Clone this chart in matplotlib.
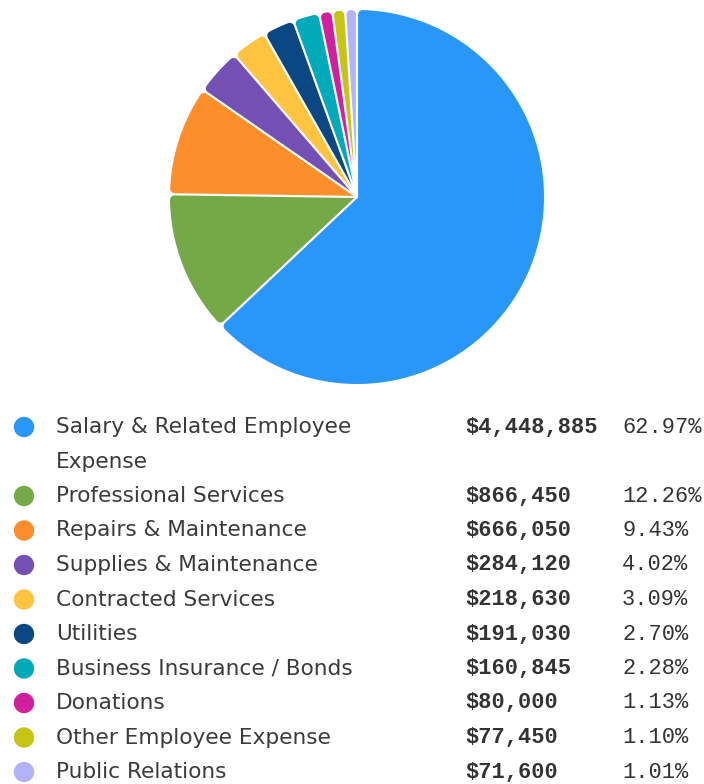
import numpy as np
import matplotlib
matplotlib.use("Agg")
import matplotlib.pyplot as plt
from matplotlib.patches import Polygon
import textwrap

# data
categories = ["Salary & Related Employee Expense", "Professional Services",
              "Repairs & Maintenance", "Supplies & Maintenance",
              "Contracted Services", "Utilities", "Business Insurance / Bonds",
              "Donations", "Other Employee Expense", "Public Relations"]
amounts = [4448885, 866450, 666050, 284120, 218630, 191030, 160845, 80000, 77450, 71600]
colors = ["#2997fa", "#75a846", "#fd8e2a", "#7450b5", "#ffc43f",
          "#0b4783", "#01aab9", "#d11f9e", "#c6c416", "#b3b3fd"]

W, H = 704, 784
fig = plt.figure(figsize=(W / 100, H / 100), dpi=100)

# legend / table area in pixel coordinates
lax = fig.add_axes([0, 0, 1, 1])
lax.set_xlim(0, W)
lax.set_ylim(H, 0)
lax.axis("off")

# pie
cx, cy, R = 357, 197, 187
pax = fig.add_axes([(cx - R) / W, (H - cy - R) / H, 2 * R / W, 2 * R / H])
wedges, _ = pax.pie(amounts, colors=colors, startangle=90, counterclock=False, radius=1)
pax.set_xlim(-1, 1)
pax.set_ylim(-1, 1)
pax.axis("off")


def rounded_wedge(t1, t2, r, g, rr):
    # wedge inset by g on the radial sides, outer corners rounded with radius rr
    h = np.radians(t2 - t1) / 2
    b = np.radians(t1 + t2) / 2
    a1, a2 = np.radians(t1), np.radians(t2)
    while rr > 0:
        cxl = np.sqrt((r - rr) ** 2 - (g + rr) ** 2)
        al = np.arctan2(g + rr, cxl)
        if al <= h:
            break
        rr -= 0.0002
    apex = g / np.sin(h) * np.array([np.cos(b), np.sin(b)])

    def rot(p, a):
        c, s = np.cos(a), np.sin(a)
        return np.column_stack([p[:, 0] * c - p[:, 1] * s, p[:, 0] * s + p[:, 1] * c])

    t = np.linspace(-np.pi / 2, al, 12)
    c1 = rot(np.column_stack([cxl + rr * np.cos(t), g + rr + rr * np.sin(t)]), a1)
    t = np.linspace(a1 + al, a2 - al, max(int(np.degrees(a2 - a1)), 4))
    arc = np.column_stack([r * np.cos(t), r * np.sin(t)])
    t = np.linspace(-al, np.pi / 2, 12)
    c2 = rot(np.column_stack([cxl + rr * np.cos(t), -(g + rr) + rr * np.sin(t)]), a2)
    return np.vstack([apex[None, :], c1, arc, c2])


for w in wedges:
    pts = rounded_wedge(w.theta1, w.theta2, w.r, 1.1 / R, 4.5 / R)
    pax.add_patch(Polygon(pts, closed=True, facecolor=w.get_facecolor(),
                          edgecolor="none", antialiased=True))
    w.set_visible(False)

# table
total = sum(amounts)
y = 427
row_h = 34.5
for name, amt, col in zip(categories, amounts, colors):
    lines = textwrap.wrap(name, 26)
    lax.scatter([24], [y], s=215, color=col, edgecolors="none")
    for k, line in enumerate(lines):
        lax.text(56, y + k * row_h, line, fontsize=15.6, family="DejaVu Sans",
                 color="#3b3b3b", va="center")
    lax.text(465, y, "${:,}".format(amt), fontsize=15.8, family="Liberation Mono",
             fontweight="bold", color="#333333", va="center")
    lax.text(622, y, "{:.2f}%".format(amt / total * 100), fontsize=15.8,
             family="Liberation Mono", color="#333333", va="center")
    y += row_h * len(lines)

fig.savefig("out.png", dpi=100)
